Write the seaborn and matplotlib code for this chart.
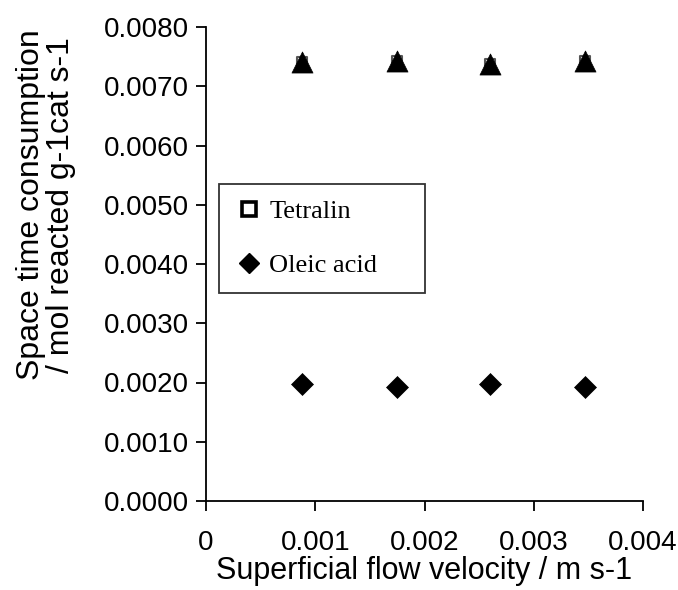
import matplotlib
matplotlib.use("Agg")
import matplotlib.pyplot as plt
import seaborn as sns
import pandas as pd
from matplotlib.lines import Line2D

velocity = [0.000876, 0.00175, 0.00260, 0.00347]
tetralin = [0.00741, 0.00743, 0.00738, 0.00742]
oleic_acid = [0.00197, 0.00193, 0.00197, 0.00193]
x_ticks = [0, 0.001, 0.002, 0.003, 0.004]
x_tick_labels = ["0", "0.001", "0.002", "0.003", "0.004"]
y_ticks = [0.0, 0.001, 0.002, 0.003, 0.004, 0.005, 0.006, 0.007, 0.008]
y_tick_labels = ["0.0000", "0.0010", "0.0020", "0.0030", "0.0040",
                 "0.0050", "0.0060", "0.0070", "0.0080"]

sns.set_theme(style="white")
plt.rcParams['font.family'] = ['Liberation Sans', 'DejaVu Sans']
plt.rcParams['text.color'] = 'black'

df = pd.DataFrame({"v": velocity, "tetralin": tetralin, "oleic": oleic_acid})

fig = plt.figure(figsize=(6.78, 5.90), dpi=100)
ax = fig.add_axes([206/678, 1-501/590, 437/678, 474/590])

sns.scatterplot(data=df, x="v", y="tetralin", ax=ax, marker="s", s=45,
                facecolor="white", edgecolor="#555555", linewidth=1.5, zorder=3)
sns.scatterplot(data=df, x="v", y="tetralin", ax=ax, marker="^", s=230,
                color="black", edgecolor="black", linewidth=0.5, zorder=4)
sns.scatterplot(data=df, x="v", y="oleic", ax=ax, marker="D", s=125,
                color="black", edgecolor="black", linewidth=0.5, zorder=4)

ax.set_xlim(0, 0.004)
ax.set_ylim(0, 0.008)
ax.set_xticks(x_ticks)
ax.set_xticklabels(x_tick_labels)
ax.set_yticks(y_ticks)
ax.set_yticklabels(y_tick_labels)

for s in ["top", "right"]:
    ax.spines[s].set_visible(False)
for s in ["left", "bottom"]:
    ax.spines[s].set_color("black")
    ax.spines[s].set_linewidth(1.3)

ax.tick_params(axis="both", which="major", direction="out", length=7, width=1.3,
               color="black", labelsize=20, labelcolor="black", pad=5,
               bottom=True, left=True)
ax.tick_params(axis="x", pad=14)
ax.grid(False)

ax.set_xlabel("Superficial flow velocity / m s-1", fontsize=22, color="black", labelpad=0)
ax.set_ylabel("Space time consumption\n/ mol reacted g-1cat s-1", fontsize=23,
              color="black", linespacing=1.0)
ax.yaxis.set_label_coords(-0.297, 0.625)

handles = [
    Line2D([], [], marker="s", linestyle="none", markersize=10, markerfacecolor="white",
           markeredgecolor="black", markeredgewidth=2.6),
    Line2D([], [], marker="D", linestyle="none", markersize=10, markerfacecolor="black",
           markeredgecolor="black"),
]
leg = ax.legend(handles, ["Tetralin", "Oleic acid"], loc="upper left",
                bbox_to_anchor=(0.0297, 0.432, 0.471, 0.237), mode="expand",
                fancybox=False, frameon=True, labelcolor="black",
                edgecolor="black", borderpad=0.6, labelspacing=1.15, handletextpad=0.2,
                handlelength=1.1, borderaxespad=0,
                prop={"family": "Liberation Serif", "size": 19})
leg.get_frame().set_linewidth(1.3)
leg.get_frame().set_edgecolor("black")

fig.savefig("out.png", dpi=100, facecolor="white")
